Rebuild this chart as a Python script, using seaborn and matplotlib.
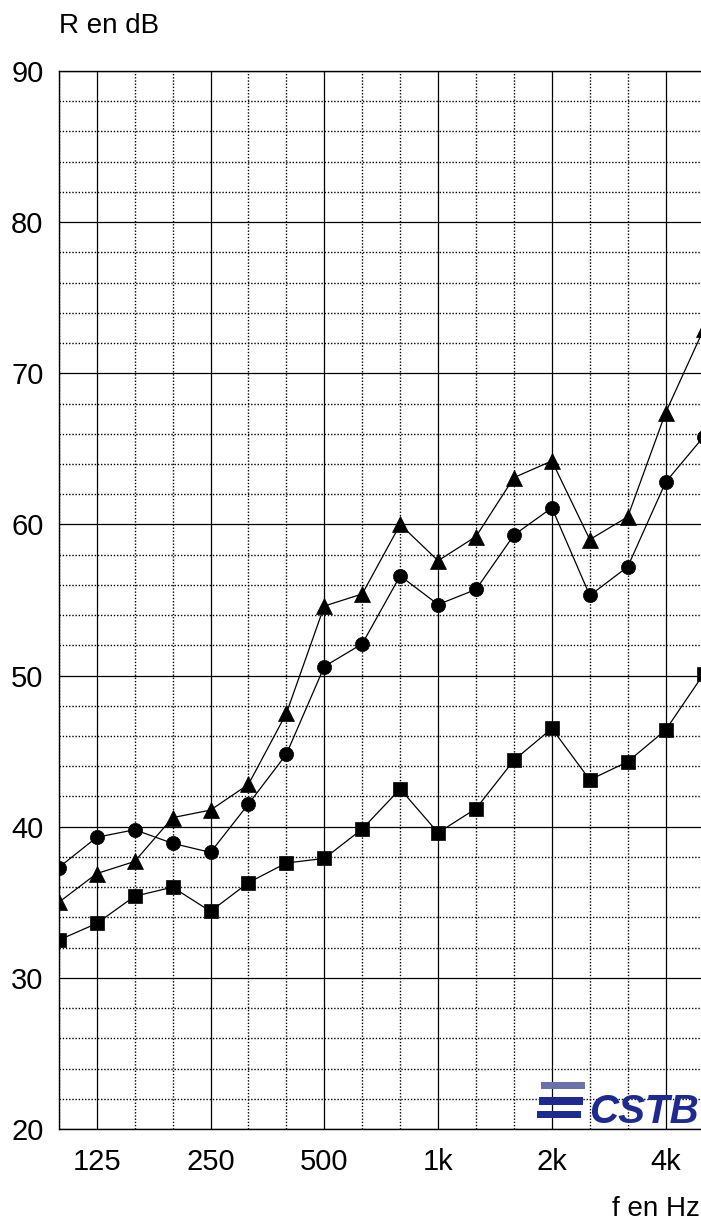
import numpy as np
import pandas as pd
import matplotlib
matplotlib.use('Agg')
import matplotlib.pyplot as plt
import seaborn as sns
from matplotlib.patches import Rectangle

# ── Data (third-octave bands 100 Hz .. 5 kHz) ───────────────
freqs = ['100', '125', '160', '200', '250', '315', '400', '500', '630',
         '800', '1k', '1.25k', '1.6k', '2k', '2.5k', '3.15k', '4k', '5k']
r_triangle = [35.0, 36.9, 37.7, 40.6, 41.1, 42.8, 47.5, 54.6, 55.4,
              60.0, 57.6, 59.2, 63.1, 64.2, 59.0, 60.5, 67.4, 72.9]
r_circle = [37.3, 39.3, 39.8, 38.9, 38.3, 41.5, 44.8, 50.6, 52.1,
            56.6, 54.7, 55.7, 59.3, 61.1, 55.3, 57.2, 62.8, 65.8]
r_square = [32.5, 33.6, 35.4, 36.0, 34.4, 36.3, 37.6, 37.9, 39.85,
            42.5, 39.6, 41.2, 44.4, 46.5, 43.1, 44.3, 46.4, 50.1]

xtick_pos = [1, 4, 7, 10, 13, 16]
xtick_labels = ['125', '250', '500', '1k', '2k', '4k']
yticks = list(range(20, 91, 10))

idx = np.arange(len(freqs))

# ── Style ────────────────────────────────────────────────────
sns.set_style('white')
plt.rcParams['font.family'] = ['Liberation Sans', 'DejaVu Sans']
plt.rcParams['text.color'] = 'black'
plt.rcParams['xtick.color'] = 'black'
plt.rcParams['ytick.color'] = 'black'

fig = plt.figure(figsize=(7.01, 12.2), dpi=100)
ax = fig.add_axes([58.8 / 701, 91 / 1220, 644.8 / 701, 1058 / 1220])

# grid first so the curves sit on top
ax.set_xticks(xtick_pos)
ax.set_xticks(idx, minor=True)
ax.set_yticks(yticks)
ax.set_yticks(np.arange(20, 91, 2), minor=True)
ax.grid(which='major', color='black', linestyle='-', linewidth=0.9)
ax.grid(which='minor', color='black', linestyle=(0, (1, 1.3)), linewidth=1.0)
ax.set_axisbelow(True)

line_kw = dict(color='black', linewidth=0.9, markeredgewidth=0.5,
               markeredgecolor='black', markerfacecolor='black')
sns.lineplot(x=idx, y=r_triangle, marker='^', markersize=12, ax=ax, **line_kw)
sns.lineplot(x=idx, y=r_circle, marker='o', markersize=10.2, ax=ax, **line_kw)
sns.lineplot(x=idx, y=r_square, marker='s', markersize=10.2, ax=ax, **line_kw)

ax.set_xlim(0, 17)
ax.set_ylim(20, 90)
ax.set_xticklabels(xtick_labels)
ax.tick_params(axis='both', which='both', length=0, labelsize=21)
ax.tick_params(axis='x', pad=14)
ax.tick_params(axis='y', pad=11)
ax.set_xlabel('')
ax.set_ylabel('')
for side in ['left', 'top', 'bottom', 'right']:
    ax.spines[side].set_color('black')
    ax.spines[side].set_linewidth(1.0)

fig.text(59 / 701, 1 - 33 / 1220, 'R en dB', fontsize=20, ha='left', va='baseline')
fig.text(700 / 701, 1 - 1216 / 1220, 'f en Hz', fontsize=20, ha='right', va='baseline')

# ── CSTB logo (bottom right, inside the plot) ────────────────
def px_rect(x0, y0, x1, y1, color):
    fig.patches.append(Rectangle((x0 / 701, 1 - y1 / 1220), (x1 - x0) / 701,
                                 (y1 - y0) / 1220, transform=fig.transFigure,
                                 facecolor=color, edgecolor='none', zorder=5))

px_rect(541, 1082, 585, 1089, '#6a72a9')
px_rect(539, 1097, 583, 1105, '#1e2a90')
px_rect(537, 1111, 581, 1118, '#1e2a90')
fig.text(699 / 701, 1 - 1123 / 1220, 'CSTB', fontsize=29, fontweight='heavy',
         fontstyle='italic', color='#1e2a90', ha='right', va='baseline',
         family=['Liberation Sans', 'DejaVu Sans'])

fig.savefig('out.png', dpi=100)
